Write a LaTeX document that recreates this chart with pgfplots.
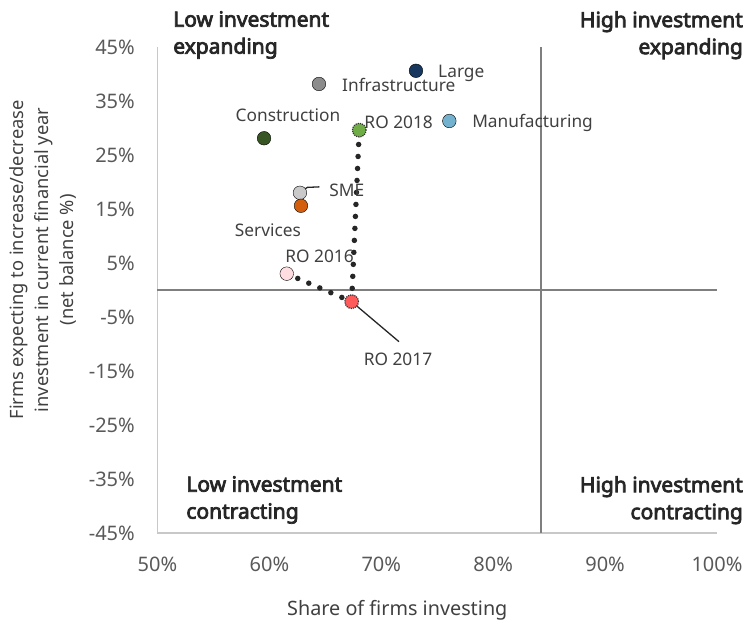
\documentclass[border=0pt]{standalone}
\usepackage{fontspec}
\setmainfont{Noto Sans}
\newfontfamily\quadfam{Noto Sans}[FakeBold=3.5]
\usepackage{pgfplots}
\pgfplotsset{compat=1.18}

\definecolor{axgray}{HTML}{C8C8C8}
\definecolor{quadgray}{HTML}{7F7F7F}
\definecolor{tickgray}{HTML}{595959}
\definecolor{lblgray}{HTML}{404040}
\definecolor{clarge}{HTML}{17375E}
\definecolor{cinfra}{HTML}{8C8C8C}
\definecolor{cmanu}{HTML}{72B2CE}
\definecolor{cconst}{HTML}{375623}
\definecolor{csme}{HTML}{C9C9C9}
\definecolor{cserv}{HTML}{D35F0C}
\definecolor{cro16}{HTML}{FFDDE0}
\definecolor{cro17}{HTML}{FF5B5B}
\definecolor{cro18}{HTML}{70AD47}

\newcommand{\tickfont}{\fontsize{20}{24}\selectfont}
\newcommand{\xlblfont}{\fontsize{19.8}{25}\selectfont}
\newcommand{\ylblfont}{\fontsize{18.3}{25}\selectfont}
\newcommand{\ptfont}{\fontsize{17.3}{22}\selectfont}
\newcommand{\quadfont}{\quadfam\fontsize{21}{27}\selectfont}

\begin{document}
\begin{tikzpicture}
\begin{axis}[
    name=ax,
    scale only axis,
    width=559.5pt, height=486pt,
    xmin=50, xmax=100, ymin=-45, ymax=45,
    xtick={50,60,...,100},
    ytick={-45,-35,...,45},
    xticklabel={\pgfmathprintnumber{\tick}\%},
    yticklabel={\pgfmathprintnumber{\tick}\%},
    /pgf/number format/assume math mode=true,
    axis x line*=bottom, axis y line*=left,
    axis line style={draw=axgray, line width=1.6pt, -},
    major tick length=0pt,
    tick label style={font=\tickfont, text=tickgray},
    xticklabel style={anchor=north, inner sep=0pt, yshift=-24pt},
    yticklabel style={anchor=east, inner sep=0pt, xshift=-22.5pt},
    xlabel={Share of firms investing},
    xlabel style={font=\xlblfont, text=lblgray, at={(rel axis cs:0.4286,-0.159)}, anchor=center},
    ylabel={Firms expecting to increase/decrease\\investment in current financial year\\(net balance \%)},
    ylabel style={font=\ylblfont, text=lblgray, align=center, inner sep=0pt,
                  at={(rel axis cs:-0.1448,0.562)}, anchor=south},
    clip=false,
]

% quadrant lines
\addplot[quadgray, line width=2pt] coordinates {(50,0) (100,0)};
\addplot[quadgray, line width=2pt] coordinates {(84.3,-45) (84.3,45)};

% RO path
\addplot[black!85, line width=5.5pt, line cap=round, dash pattern=on 0pt off 12pt]
  coordinates {(61.55,3.02) (67.35,-2.16) (68.03,29.6)};

% sectors
\addplot[only marks, mark=*, mark size=6.8pt, mark options={draw=none, fill=clarge}] coordinates {(73.10,40.6)};
\addplot[only marks, mark=*, mark size=6.8pt, mark options={draw=none, fill=cinfra}] coordinates {(64.43,38.15)};
\addplot[only marks, mark=*, mark size=6.8pt, mark options={draw=none, fill=cmanu}] coordinates {(76.08,31.3)};
\addplot[only marks, mark=*, mark size=6.8pt, mark options={draw=none, fill=cconst}] coordinates {(59.52,28.1)};
\addplot[only marks, mark=*, mark size=6.8pt, mark options={draw=none, fill=csme}] coordinates {(62.73,18.0)};
\addplot[only marks, mark=*, mark size=6.8pt, mark options={draw=none, fill=cserv}] coordinates {(62.82,15.6)};
\addplot[only marks, mark=*, mark size=6.8pt, mark options={draw=none, fill=cro16}] coordinates {(61.55,3.02)};
\addplot[only marks, mark=*, mark size=6.8pt, mark options={draw=black!80, densely dotted, line width=1.2pt, fill=cro17}] coordinates {(67.35,-2.16)};
\addplot[only marks, mark=*, mark size=6.8pt, mark options={draw=black!80, densely dotted, line width=1.2pt, fill=cro18}] coordinates {(68.03,29.6)};

% leader lines
\draw[black!85, line width=1.3pt] (axis cs:62.82,18.2) -- (axis cs:63.39,19.0) -- (axis cs:64.46,19.1);
\draw[black!85, line width=1.3pt] (axis cs:67.35,-2.16) -- (axis cs:71.58,-9.57);

% point labels
\begin{scope}[every node/.style={font=\ptfont, text=lblgray, inner sep=0pt}]
\node[anchor=west] at (axis cs:75.07,40.2) {Large};
\node[anchor=west] at (axis cs:66.49,37.96) {Infrastructure};
\node[anchor=center] at (axis cs:61.66,32.3) {Construction};
\node[anchor=west] at (axis cs:68.48,31.0) {RO 2018};
\node[anchor=west] at (axis cs:78.11,30.9) {Manufacturing};
\node[anchor=west] at (axis cs:65.35,18.5) {SME};
\node[anchor=center] at (axis cs:59.87,11.1) {Services};
\node[anchor=center] at (axis cs:64.48,6.3) {RO 2016};
\node[anchor=center] at (axis cs:71.49,-12.8) {RO 2017};
\end{scope}

% quadrant labels
\begin{scope}[every node/.style={font=\quadfont, text=black!85, inner sep=0pt}]
\node[anchor=north west, align=left] at (axis cs:51.39,51.67) {Low investment\\expanding};
\node[anchor=north east, align=right] at (axis cs:102.33,51.67) {High investment\\expanding};
\node[anchor=north west, align=left] at (axis cs:52.56,-34.44) {Low investment\\contracting};
\node[anchor=north east, align=right] at (axis cs:102.33,-34.44) {High investment\\contracting};
\end{scope}
\end{axis}
\pgfresetboundingbox
\path[use as bounding box] ([shift={(-157.5pt,-88.3pt)}]ax.south west) rectangle ([shift={(28pt,47pt)}]ax.north east);
\end{tikzpicture}
\end{document}
